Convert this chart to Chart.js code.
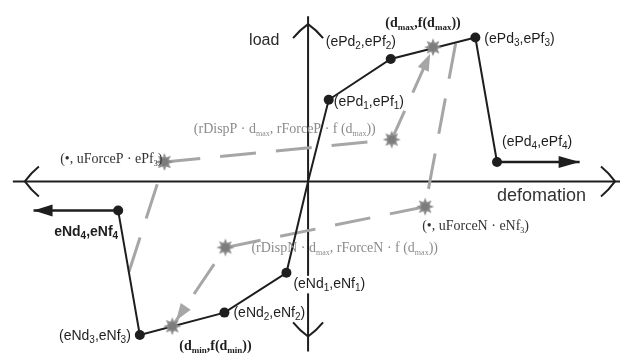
<!DOCTYPE html>
<html>
<head>
<meta charset="utf-8">
<script src="https://cdn.jsdelivr.net/npm/chart.js@4.4.1/dist/chart.umd.min.js"></script>
<style>
  html, body { margin: 0; padding: 0; background: #fff; }
  #wrap { width: 625px; height: 356px; }
</style>
</head>
<body>
<div id="wrap"><canvas id="loop" width="625" height="356"></canvas></div>
<script>
// envelope points (deformation, load) in model units
const ePd = [2.1, 8.4, 17.0, 19.2];
const ePf = [8.4, 12.6, 14.8, 2.0];
const eNd = [-2.2, -8.5, -17.1, -19.3];
const eNf = [-9.4, -13.5, -15.8, -3.0];
const residualEnd = [27.6, -27.9];   // where the flat residual branches stop (+ / -)

// cyclic path reference points [deformation, load]
const dMaxPt = [12.7, 13.8];
const dMinPt = [-13.8, -14.9];
const uForcePPt = [-14.6, 2.0];
const rDispPPt = [8.5, 4.3];
const uForceNPt = [11.9, -2.6];
const rDispNPt = [-8.4, -6.8];
const unloadPStart = [15.0, 14.2];
const unloadNStart = [-18.2, -9.3];

// axis extents
const axisD = [-30.0, 31.7];
const axisF = [17.0, -17.5];

const pt = (d, f) => ({ x: d, y: f });
const GRAY = '#a6a6a6';
const INK = '#1e1e1e';

function makeStar() {
  const c = document.createElement('canvas');
  c.width = c.height = 20;
  const g = c.getContext('2d');
  g.translate(10, 10);
  g.beginPath();
  for (let i = 0; i < 16; i++) {
    const r = i % 2 ? 4.8 : 9;
    const a = i * Math.PI / 8 - Math.PI / 2;
    g.lineTo(r * Math.cos(a), r * Math.sin(a));
  }
  g.closePath();
  g.fillStyle = '#8d8d8d';
  g.fill();
  g.beginPath();
  g.arc(0, 0, 4, 0, Math.PI * 2);
  g.fillStyle = '#7c7c7c';
  g.fill();
  return c;
}
const star = makeStar();

// backbone runs from eNd4 through the origin to ePd4
const backbone = [];
for (let i = eNd.length - 1; i >= 0; i--) backbone.push(pt(eNd[i], eNf[i]));
backbone.push(pt(0, 0));
for (let i = 0; i < ePd.length; i++) backbone.push(pt(ePd[i], ePf[i]));
const backboneRadius = backbone.map(p => (p.x === 0 && p.y === 0 ? 0 : 5));

const dashed = {
  showLine: true, borderColor: GRAY, borderWidth: 3, borderDash: [36, 20],
  pointRadius: 0, clip: false, order: 3
};

const datasets = [
  { // axes
    data: [pt(axisD[0], 0), pt(axisD[1], 0)], showLine: true, borderColor: INK,
    borderWidth: 2, pointRadius: 0, clip: false, order: 5
  },
  {
    data: [pt(0, axisF[0]), pt(0, axisF[1])], showLine: true, borderColor: INK,
    borderWidth: 2, pointRadius: 0, clip: false, order: 5
  },
  Object.assign({ data: [pt(...uForcePPt), pt(...rDispPPt), pt(...dMaxPt)] }, dashed),
  Object.assign({ data: [pt(...unloadPStart), pt(...uForceNPt)] }, dashed),
  Object.assign({ data: [pt(...uForceNPt), pt(...rDispNPt), pt(...dMinPt)] }, dashed),
  Object.assign({ data: [pt(...unloadNStart), pt(...uForcePPt)] }, dashed),
  { // residual branches
    data: [pt(ePd[3], ePf[3]), pt(residualEnd[0], ePf[3])], showLine: true,
    borderColor: INK, borderWidth: 2.5, pointRadius: 0, clip: false, order: 2
  },
  {
    data: [pt(eNd[3], eNf[3]), pt(residualEnd[1], eNf[3])], showLine: true,
    borderColor: INK, borderWidth: 2.5, pointRadius: 0, clip: false, order: 2
  },
  {
    data: backbone, showLine: true, borderColor: INK, borderWidth: 2,
    pointRadius: backboneRadius, pointBackgroundColor: INK, pointBorderWidth: 0,
    clip: false, order: 1
  },
  {
    data: [dMaxPt, dMinPt, uForcePPt, rDispPPt, uForceNPt, rDispNPt].map(p => pt(...p)),
    showLine: false, pointStyle: star, clip: false, order: 0
  }
];

// text: "_x" or "_{xyz}" marks a subscript
function richParts(str) {
  const out = [];
  const re = /_\{([^}]*)\}|_(.)/g;
  let last = 0, m;
  while ((m = re.exec(str))) {
    if (m.index > last) out.push({ t: str.slice(last, m.index), sub: false });
    out.push({ t: m[1] || m[2], sub: true });
    last = re.lastIndex;
  }
  if (last < str.length) out.push({ t: str.slice(last), sub: false });
  return out;
}

function drawRich(ctx, str, x, y, o) {
  const parts = richParts(str);
  const w8 = o.weight || 'normal';
  const main = `${w8} ${o.size}px ${o.family}`;
  const sub = `${w8} ${o.subSize}px ${o.family}`;
  let w = 0;
  parts.forEach(p => { ctx.font = p.sub ? sub : main; p.w = ctx.measureText(p.t).width; w += p.w; });
  let sx = o.align === 'right' ? x - w : o.align === 'center' ? x - w / 2 : x;
  if (o.bg) {
    ctx.fillStyle = o.bg;
    ctx.fillRect(sx - 2, y - o.size * 0.85, w + 4, o.size * 1.25);
  }
  ctx.fillStyle = o.color;
  ctx.textAlign = 'left';
  ctx.textBaseline = 'alphabetic';
  parts.forEach(p => {
    ctx.font = p.sub ? sub : main;
    ctx.fillText(p.t, sx, y + (p.sub ? o.subDrop : 0));
    sx += p.w;
  });
}

const SANS = { family: '"Liberation Sans", Arial, sans-serif', size: 14, subSize: 10, subDrop: 3, color: INK };
const SERIF = { family: '"Liberation Serif", "Times New Roman", serif', size: 14, subSize: 8, subDrop: 3, color: '#333' };

const labels = [
  { at: [ePd[0], ePf[0]], text: '(ePd_1,ePf_1)', dx: 5, dy: 6, st: SANS },
  { at: [ePd[1], ePf[1]], text: '(ePd_2,ePf_2)', dx: -65, dy: -13, st: SANS },
  { at: [ePd[2], ePf[2]], text: '(ePd_3,ePf_3)', dx: 9, dy: 5, st: SANS },
  { at: [ePd[3], ePf[3]], text: '(ePd_4,ePf_4)', dx: 5, dy: -16, st: SANS },
  { at: [eNd[0], eNf[0]], text: '(eNd_1,eNf_1)', dx: 7, dy: 15, st: Object.assign({}, SANS, { bg: '#fff' }) },
  { at: [eNd[1], eNf[1]], text: '(eNd_2,eNf_2)', dx: 9, dy: 4, st: SANS },
  { at: [eNd[2], eNf[2]], text: '(eNd_3,eNf_3)', dx: -9, dy: 5, st: Object.assign({}, SANS, { align: 'right' }) },
  { at: [eNd[3], eNf[3]], text: 'eNd_4,eNf_4', dx: 0, dy: 25, st: Object.assign({}, SANS, { align: 'right', weight: 'bold' }) },
  { at: dMaxPt, text: '(d_{max},f(d_{max}))', dx: -10, dy: -20, st: Object.assign({}, SERIF, { align: 'center', weight: 'bold', subSize: 9, color: INK }) },
  { at: dMinPt, text: '(d_{min},f(d_{min}))', dx: 7, dy: 24, st: Object.assign({}, SERIF, { weight: 'bold', subSize: 9, color: INK }) },
  { at: rDispPPt, text: '(rDispP · d_{max}, rForceP · f (d_{max}))', dx: -16, dy: -7, st: Object.assign({}, SERIF, { align: 'right', color: '#8c8c8c' }) },
  { at: rDispNPt, text: '(rDispN · d_{max}, rForceN · f (d_{max}))', dx: 26, dy: 5, st: Object.assign({}, SERIF, { color: '#8c8c8c' }) },
  { at: uForcePPt, text: '(•, uForceP · ePf_3)', dx: -2, dy: 1, st: Object.assign({}, SERIF, { align: 'right' }) },
  { at: uForceNPt, text: '(•, uForceN · eNf_3)', dx: -3, dy: 23, st: SERIF }
];

function fillArrow(ctx, tip, from, len, half, color) {
  const ang = Math.atan2(tip[1] - from[1], tip[0] - from[0]);
  const c = Math.cos(ang), s = Math.sin(ang);
  const bx = tip[0] - c * len, by = tip[1] - s * len;
  ctx.beginPath();
  ctx.moveTo(tip[0], tip[1]);
  ctx.lineTo(bx - s * half, by + c * half);
  ctx.lineTo(bx + s * half, by - c * half);
  ctx.closePath();
  ctx.fillStyle = color;
  ctx.fill();
}

// open chevron at an axis end, arms nearly straight with a slight bow
function chevron(ctx, v, dir) {
  const [vx, vy] = v;
  const px = -dir[1], py = dir[0];
  ctx.beginPath();
  for (const side of [-1, 1]) {
    const ex = vx - dir[0] * 14 + px * 15 * side, ey = vy - dir[1] * 14 + py * 15 * side;
    const cx = vx - dir[0] * 6 + px * 8.5 * side, cy = vy - dir[1] * 6 + py * 8.5 * side;
    ctx.moveTo(vx, vy);
    ctx.quadraticCurveTo(cx, cy, ex, ey);
  }
  ctx.strokeStyle = INK;
  ctx.lineWidth = 2;
  ctx.stroke();
}

const decor = {
  id: 'decor',
  afterDatasetsDraw(chart) {
    const ctx = chart.ctx, xs = chart.scales.x, ys = chart.scales.y;
    const P = (d, f) => [xs.getPixelForValue(d), ys.getPixelForValue(f)];
    ctx.save();

    // axis arrowheads
    chevron(ctx, [P(0, axisF[0])[0], P(0, axisF[0])[1] + 8], [0, -1]);
    chevron(ctx, [P(0, axisF[1])[0], P(0, axisF[1])[1] - 15], [0, 1]);
    chevron(ctx, [P(axisD[0], 0)[0] + 12, P(axisD[0], 0)[1]], [-1, 0]);
    chevron(ctx, [P(axisD[1], 0)[0] - 5, P(axisD[1], 0)[1]], [1, 0]);

    // residual branch arrowheads
    fillArrow(ctx, P(residualEnd[0], ePf[3]), P(ePd[3], ePf[3]), 21, 6, INK);
    fillArrow(ctx, P(residualEnd[1], eNf[3]), P(eNd[3], eNf[3]), 19, 6, INK);

    // reloading arrowheads just short of the stars
    for (const [a, b] of [[rDispPPt, dMaxPt], [rDispNPt, dMinPt]]) {
      const pa = P(...a), pb = P(...b);
      const L = Math.hypot(pb[0] - pa[0], pb[1] - pa[1]);
      const k = (L - 7) / L;
      const tip = [pa[0] + (pb[0] - pa[0]) * k, pa[1] + (pb[1] - pa[1]) * k];
      fillArrow(ctx, tip, pa, 17, 6, GRAY);
    }

    // axis names
    const o = P(0, 0);
    drawRich(ctx, 'load', o[0] - 59, P(0, axisF[0])[1] + 28.5, Object.assign({}, SANS, { size: 16, color: '#2a2a2a' }));
    drawRich(ctx, 'defomation', o[0] + 189, o[1] + 20, Object.assign({}, SANS, { size: 18, color: '#333' }));

    for (const l of labels) {
      const p = P(...l.at);
      drawRich(ctx, l.text, p[0] + l.dx, p[1] + l.dy, l.st);
    }
    ctx.restore();
  }
};

new Chart(document.getElementById('loop'), {
  type: 'scatter',
  data: { datasets },
  options: {
    responsive: false,
    animation: false,
    devicePixelRatio: 1,
    layout: { padding: 0 },
    plugins: { legend: { display: false }, tooltip: { enabled: false } },
    scales: {
      x: { type: 'linear', min: -30.8, max: 31.7, display: false },
      y: { type: 'linear', min: -17.45, max: 18.15, display: false }
    }
  },
  plugins: [decor]
});
</script>
</body>
</html>
